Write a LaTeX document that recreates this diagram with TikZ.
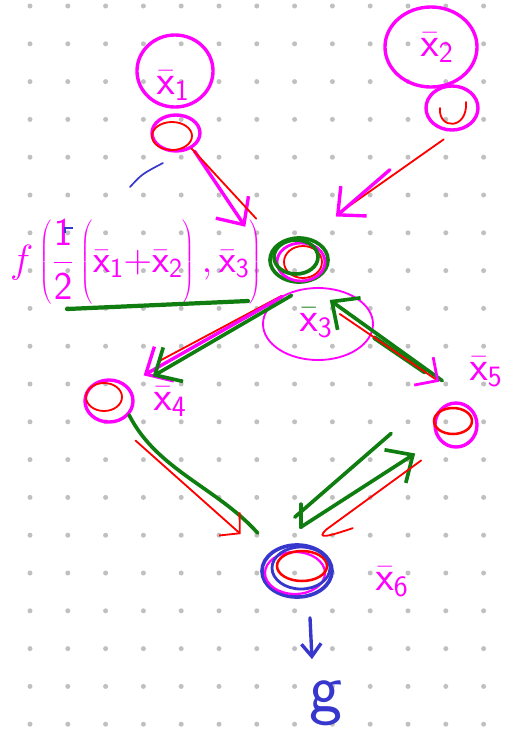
\RequirePackage{fix-cm}
\documentclass[tikz,border=0pt]{standalone}
\usetikzlibrary{arrows.meta,shapes.geometric}
\definecolor{hmag}{RGB}{255,0,255}
\definecolor{hred}{RGB}{255,0,0}
\definecolor{hgreen}{RGB}{15,125,15}
\definecolor{hblue}{RGB}{55,55,205}
\definecolor{dotgray}{RGB}{192,192,192}
\newcommand{\xbar}[1]{\bar{\mathsf{x}}_{\mathsf{#1}}}

\begin{document}
\begin{tikzpicture}[x=0.025cm,y=-0.025cm,
    blob/.style={ellipse,draw=hmag,line width=2.4pt,inner sep=0pt},
    lab/.style={text=hmag,inner sep=0pt,font=\fontsize{30}{34}\selectfont},
    magln/.style={hmag,line width=2.4pt,line cap=round},
    redln/.style={hred,line width=1.3pt,line cap=round},
    grnln/.style={hgreen,line width=2.6pt,line cap=round},
    bluln/.style={hblue,line width=2.4pt,line cap=round},
    hbarb/.style={-{Straight Barb[length=15pt,width=28pt]}}]
  \fill[white] (0,0) rectangle (524,733);
  \useasboundingbox (0,0) rectangle (524,733);
  % dot grid
  \foreach \i in {0,...,12}
    \foreach \j in {0,...,19}
      \fill[dotgray] (30+37.8*\i,6+37.8*\j) circle (2.5);

  % inputs
  \node[blob,minimum width=1.9cm,minimum height=1.8cm] (x1) at (175,71) {};
  \node[lab] (x1lab) at (173,86) {$\xbar1$};
  \node[blob,minimum width=1.2cm,minimum height=0.9cm] (x1s) at (176,133) {};
  \draw[redln] ([shift={(-4,3)}]x1s.center) ellipse (20 and 14);
  \node[blob,minimum width=2.3cm,minimum height=2cm] (x2) at (431,47) {};
  \node[lab] (x2lab) at (437,48) {$\xbar2$};
  \node[blob,minimum width=1.3cm,minimum height=1.1cm] (x2s) at (452,108) {};
  \draw[redln] ([shift={(-12,0)}]x2s.center) .. controls ([shift={(-14,22)}]x2s.center) and ([shift={(16,22)}]x2s.center) .. ([shift={(14,-6)}]x2s.center);
  \draw[bluln,line width=1.2pt] (130,187) .. controls (142,174) .. (163,163);

  % f node
  \node[blob,draw=hgreen,line width=2.6pt,minimum width=1.45cm,minimum height=1.1cm] (f) at (299,260) {};
  \draw[hmag,line width=2pt] ([shift={(2,2)}]f.center) ellipse (24 and 19);
  \draw[redln] ([shift={(4,2)}]f.center) ellipse (19 and 16);
  \draw[grnln] ([shift={(-3,-3)}]f.center) ellipse (22 and 17);
  \node[text=hmag,inner sep=0pt,font=\fontsize{28}{32}\selectfont] (fexpr) at (136,262)
    {$\displaystyle f\left(\frac{\mathsf 1}{\mathsf 2}\left(\vphantom{\frac{\mathsf 1}{\mathsf 2}}\xbar1{+}\xbar2\right),\xbar3\right)$};
  \draw[grnln,line width=3pt] (67,309) -- (248,301);
  \draw[hblue,line width=1.2pt] ([shift={(-71,-29)}]fexpr.center) -- ++(0,-5) -- ++(8,0);

  \draw[magln,hbarb] ([shift={(8,0)}]x1s.-60) -- ([shift={(-29,-19)}]f.150);
  \draw[redln] (x1s.-45) -- ([shift={(-18,-27)}]f.150);
  \draw[redln] ([shift={(6,11)}]x2s.-125) -- ([shift={(20,-30)}]f.40);
  \draw[magln,hbarb,shorten <=45pt] (x2s.-125) -- ([shift={(16,-26)}]f.40);

  % x3
  \node[blob,line width=1.3pt,minimum width=2.75cm,minimum height=1.8cm] (x3) at (318,324) {};
  \node[lab,text=hgreen] (x3lab) at (316,323) {$\bar{\textcolor{hmag}{\mathsf{x}}}_{\textcolor{hmag}{\mathsf 3}}$};

  % x4 and x5
  \node[blob,minimum width=1.2cm,minimum height=1.05cm] (x4) at (109,401) {};
  \draw[redln] ([shift={(-5,-4)}]x4.center) ellipse (18 and 14);
  \node[lab] (x4lab) at (170,402) {$\xbar4$};
  \node[blob,minimum width=1.05cm,minimum height=1.1cm] (x5) at (456,425) {};
  \draw[redln,line width=1.8pt] ([shift={(-3,-4)}]x5.center) ellipse (19 and 13);
  \node[lab] (x5lab) at (486,372) {$\xbar5$};

  \draw[redln] ([shift={(-3,15)}]f.-125) -- ([shift={(31,-24)}]x4.40);
  \draw[magln,hbarb] ([shift={(-3,15)}]f.-122) -- ([shift={(16,-10)}]x4.40);
  \draw[grnln,hbarb] ([shift={(3,13)}]f.-115) -- ([shift={(25,-9)}]x4.40);

  \draw[grnln,hbarb] ([shift={(-2,-24)}]x5.120) -- ([shift={(14,20)}]f.-50);
  \draw[grnln,line width=3.4pt] ([shift={(-20,-33)}]x5.120) -- ([shift={(59,58)}]f.-50);
  \draw[redln,-{Straight Barb[length=12pt,width=24pt,color=hmag,line width=2pt]}] ([shift={(24,34)}]f.-50) -- ([shift={(-5,-23)}]x5.120);

  % output
  \node[blob,draw=hblue,line width=2.6pt,minimum width=1.75cm,minimum height=1.3cm] (x6) at (297,571) {};
  \draw[hmag,line width=1.6pt] ([shift={(-2,2)}]x6.center) ellipse (30 and 21);
  \draw[redln,line width=1.8pt] ([shift={(5,-5)}]x6.center) ellipse (25 and 15);
  \draw[bluln,line width=2pt] ([shift={(4,-3)}]x6.center) ellipse (29 and 21);
  \node[lab] (x6lab) at (392,582) {$\xbar6$};

  \draw[grnln] (x4.-35) .. controls +(28,55) and +(-40,-45) .. ([shift={(-10,-21)}]x6.150);
  \draw[redln,-{Straight Barb[length=10pt,width=22pt]}] ([shift={(8,24)}]x4.-40) -- ([shift={(-27,-20)}]x6.150);
  \draw[grnln,hbarb] ([shift={(-6,-17)}]x6.70) -- ([shift={(-21,17)}]x5.-150);
  \draw[grnln] ([shift={(-12,-27)}]x6.70) -- ([shift={(-45,-3)}]x5.-150);
  \draw[grnln] ([shift={(-6,-17)}]x6.70) -- ([shift={(-6,-40)}]x6.70);
  \draw[redln] ([shift={(-15,24)}]x5.-150) -- ([shift={(20,-15)}]x6.70) .. controls ([shift={(8,-4)}]x6.70) and ([shift={(22,-8)}]x6.70) .. ([shift={(46,-16)}]x6.70);

  \node[text=hblue,inner sep=0pt,font=\fontsize{50}{50}\selectfont\sffamily] (g) at (326,703) {g};
  \draw[bluln,-{Straight Barb[length=9pt,width=14pt]}] ([shift={(13,19)}]x6.south) -- ([shift={(-14,-21)}]g.north);
\end{tikzpicture}
\end{document}
